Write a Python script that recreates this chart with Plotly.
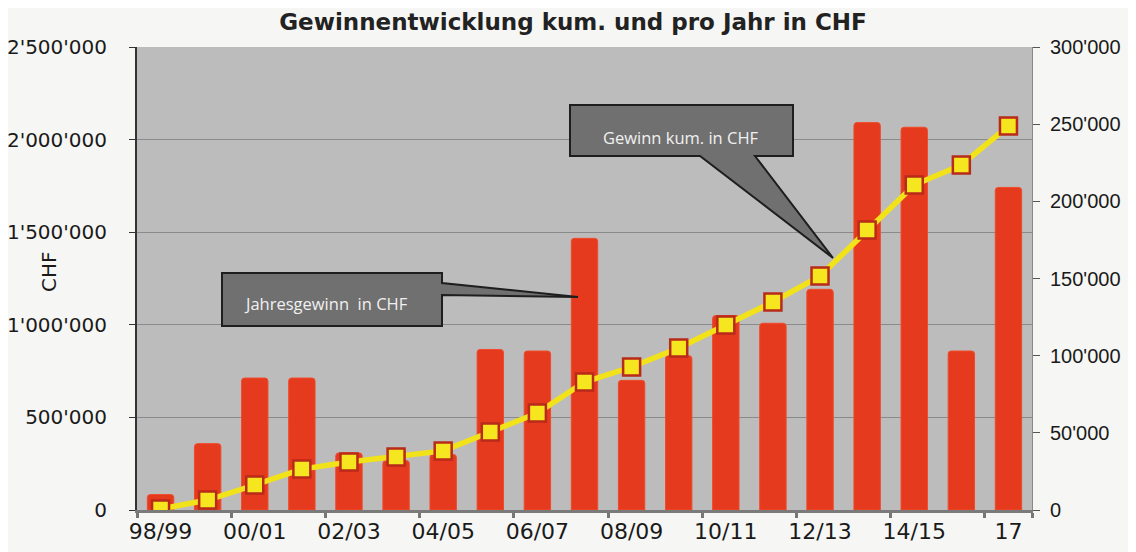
import plotly.graph_objects as go

categories = ["98/99", "99/00", "00/01", "01/02", "02/03", "03/04", "04/05", "05/06",
              "06/07", "07/08", "08/09", "09/10", "10/11", "11/12", "12/13", "13/14",
              "14/15", "15/16", "17"]
jahresgewinn = [10000, 43000, 85500, 85500, 37000, 32000, 36000, 104000, 103000, 176000,
                84000, 100000, 126000, 121000, 143000, 251000, 248000, 103000, 209000]
gewinn_kum = [5000, 54000, 135000, 221000, 259000, 286000, 319000, 421000, 524000, 691000,
              772000, 875000, 999000, 1123000, 1263000, 1512000, 1755000, 1863000, 2073000]
tick_labels = ["98/99", "00/01", "02/03", "04/05", "06/07", "08/09", "10/11", "12/13", "14/15", "17"]
title_text = "Gewinnentwicklung kum. und pro Jahr in CHF"

# page body adds an 8px offset; work in screen pixels and subtract it
OFF = 8
SW, SH = 1136, 552
W, H = SW - OFF, SH - OFF
PL, PR, PT, PB = 137, 1032, 47, 510  # plot area in screen px
L, R, T, B = PL - OFF, SW - PR, PT - OFF, SH - PB
PW, PH = PR - PL, PB - PT

def px(x):
    return (x - PL) / PW

def py(y):
    return (PB - y) / PH

fig = go.Figure()
fig.add_trace(go.Bar(
    x=categories, y=jahresgewinn, yaxis="y",
    marker=dict(color="#e63a1e", line=dict(color="#f04a2a", width=1)),
    name="Jahresgewinn in CHF",
))
fig.add_trace(go.Scatter(
    x=categories, y=gewinn_kum, yaxis="y2", mode="lines+markers",
    line=dict(color="#f2e21a", width=5.5),
    marker=dict(symbol="square", size=17, color="#f5e61f", line=dict(color="#b82a1a", width=2.5)),
    name="Gewinn kum. in CHF",
))

shapes = []
box_fill = "#707070"
box_line = "#1e1e1e"
# callout 1: Jahresgewinn
shapes.append(dict(type="path", xref="paper", yref="paper",
    path=f"M {px(222)} {py(273)} L {px(442)} {py(273)} L {px(442)} {py(283)} L {px(578)} {py(297)} "
         f"L {px(442)} {py(295)} L {px(442)} {py(326)} L {px(222)} {py(326)} Z",
    fillcolor=box_fill, line=dict(color=box_line, width=2)))
# callout 2: Gewinn kum.
shapes.append(dict(type="path", xref="paper", yref="paper",
    path=f"M {px(570)} {py(105)} L {px(793)} {py(105)} L {px(793)} {py(156)} L {px(755)} {py(156)} "
         f"L {px(833)} {py(258)} L {px(700)} {py(156)} L {px(570)} {py(156)} Z",
    fillcolor=box_fill, line=dict(color=box_line, width=2)))

annotations = [
    dict(text="Jahresgewinn  in CHF", xref="paper", yref="paper", x=px(326), y=py(303),
         xanchor="center", yanchor="middle",
         showarrow=False, font=dict(family="Open Sans", size=16.5, color="#f0f0f0")),
    dict(text="Gewinn kum. in CHF", xref="paper", yref="paper", x=px(681), y=py(137),
         xanchor="center", yanchor="middle",
         showarrow=False, font=dict(family="Open Sans", size=16.5, color="#f0f0f0")),
    dict(text="CHF", xref="paper", yref="paper", x=px(49), y=py(272), textangle=-90,
         xanchor="center", yanchor="middle",
         showarrow=False, font=dict(family="DejaVu Sans", size=20, color="#1a1a1a")),
]

fig.update_layout(
    width=W, height=H,
    margin=dict(l=L, r=R, t=T, b=B, autoexpand=False),
    paper_bgcolor="#f6f6f4",
    plot_bgcolor="#bcbcbc",
    separators=".'",
    showlegend=False,
    bargap=0.44,
    barcornerradius=3,
    title=dict(text=f"<b>{title_text}</b>", x=(573 - OFF) / W, xanchor="center",
               y=1 - (22 - OFF) / H, yanchor="middle", automargin=False,
               font=dict(family="DejaVu Sans", size=23, color="#222222")),
    xaxis=dict(
        type="category", tickmode="array", tickvals=tick_labels, ticktext=tick_labels,
        tickson="boundaries", ticks="outside", ticklen=5, tickcolor="#777777", tickwidth=3,
        showline=True, linecolor="#7a7a7a", linewidth=3, tickangle=0, automargin=False,
        tickfont=dict(family="DejaVu Sans", size=22, color="#1a1a1a"),
        showgrid=False, range=[-0.5, 18.5],
    ),
    yaxis=dict(
        side="right", range=[0, 300000], dtick=50000, tickformat=",d", automargin=False,
        ticks="outside", ticklen=7, tickcolor="#555555", ticklabelstandoff=6,
        showline=True, linecolor="#888888", linewidth=1,
        showgrid=False, zeroline=False,
        tickfont=dict(family="Liberation Sans", size=20, color="#1a1a1a"),
    ),
    yaxis2=dict(
        overlaying="y", side="left", range=[0, 2500000], dtick=500000, tickformat=",d",
        automargin=False,
        ticks="outside", ticklen=6, tickcolor="#333333", ticklabelstandoff=18,
        showline=True, linecolor="#333333", linewidth=2,
        showgrid=True, gridcolor="#8a8a8a", gridwidth=1, zeroline=False,
        tickfont=dict(family="DejaVu Sans", size=20, color="#1a1a1a"),
    ),
    shapes=shapes,
    annotations=annotations,
)

fig.write_html("out.html")
